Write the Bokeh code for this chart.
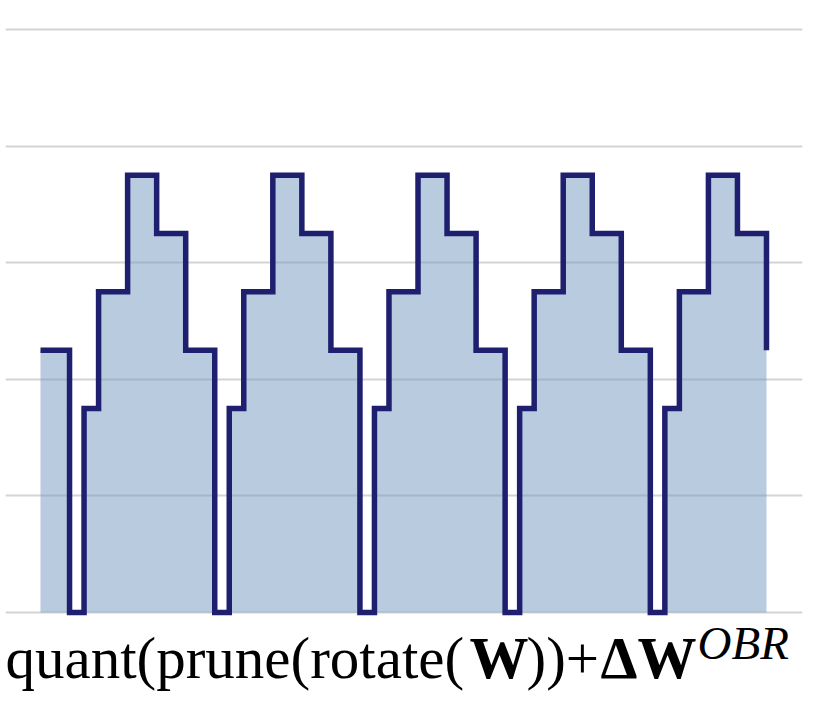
from bokeh.plotting import figure
from bokeh.models import Label, FixedTicker
from bokeh.embed import file_html
from bokeh.resources import INLINE

# ---- data ----
cells = list(range(50))
levels = [2.25, 2.25, 0, 1.75, 2.75, 2.75, 3.75, 3.75, 3.25, 3.25,
          2.25, 2.25, 0, 1.75, 2.75, 2.75, 3.75, 3.75, 3.25, 3.25,
          2.25, 2.25, 0, 1.75, 2.75, 2.75, 3.75, 3.75, 3.25, 3.25,
          2.25, 2.25, 0, 1.75, 2.75, 2.75, 3.75, 3.75, 3.25, 3.25,
          2.25, 2.25, 0, 1.75, 2.75, 2.75, 3.75, 3.75, 3.25, 3.25]
next_level = 2.25          # value the line drops to after the last cell
grid_ticks = [0, 1, 2, 3, 4, 5]

# ---- ranges / figure ----
X0, X1 = -2.41, 52.48
Y0, Y1 = -0.772, 5.017
W, H = 816, 702
BL, BR, BT, BB = 5, 14, 27, 0

p = figure(width=W, height=H, x_range=(X0, X1), y_range=(Y0, Y1),
           output_backend="svg", toolbar_location=None,
           min_border_left=BL, min_border_right=BR,
           min_border_top=BT, min_border_bottom=BB)
p.axis.visible = False
p.xgrid.visible = False
p.ygrid.ticker = FixedTicker(ticks=grid_ticks)
p.ygrid.grid_line_color = "#d4d4d4"
p.ygrid.grid_line_width = 2
p.outline_line_color = None
p.background_fill_color = "white"
p.border_fill_color = "white"

fill_x = cells + [len(cells)]
fill_y = levels + [levels[-1]]
p.varea_step(x=fill_x, y1=[0] * len(fill_x), y2=fill_y, step_mode="after",
             fill_color="#7397bf", fill_alpha=0.5)

line_x = cells + [len(cells)]
line_y = levels + [next_level]
p.step(x=line_x, y=line_y, mode="after", line_color="#1e1f6e",
       line_width=5.5, line_join="miter")


def px_x(px):
    return X0 + (px - BL) * (X1 - X0) / (W - BL - BR)


def px_y(py):
    return Y1 - (py - BT) * (Y1 - Y0) / (H - BT - BB)


FONT = "Liberation Serif"
base = px_y(657)
pieces = [
    ("quant(prune(rotate(", 5, base, "59px", "normal"),
    ("W", 469, base, "59px", "bold"),
    ("))+", 526, base, "59px", "normal"),
    ("ΔW", 600, base, "59px", "bold"),
    ("OBR", 697, px_y(642), "47px", "italic"),
]
for txt, xx, yy, size, style in pieces:
    p.add_layout(Label(x=px_x(xx), y=yy, text=txt, text_font=FONT,
                       text_font_size=size, text_font_style=style,
                       text_color="black", text_baseline="alphabetic",
                       text_align="left"))

open("out.html", "w").write(file_html(p, INLINE))
